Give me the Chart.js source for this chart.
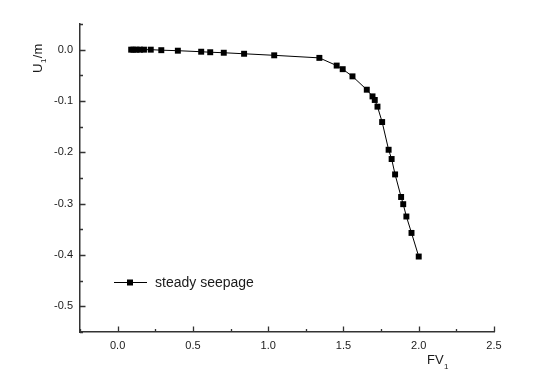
<!DOCTYPE html>
<html>
<head>
<meta charset="utf-8">
<script src="https://cdn.jsdelivr.net/npm/chart.js@4/dist/chart.umd.min.js"></script>
<style>
html,body{margin:0;padding:0;background:#fff;}
#wrap{width:553px;height:386px;position:relative;}
</style>
</head>
<body>
<div id="wrap"><canvas id="c" width="553" height="386"></canvas></div>
<script>
const fv = [0.09,0.105,0.125,0.148,0.175,0.22,0.29,0.40,0.555,0.615,0.705,0.84,1.04,1.34,1.455,1.495,1.56,1.655,1.693,1.708,1.726,1.757,1.80,1.82,1.843,1.883,1.897,1.918,1.952,2.0];
const u1 = [0,0,0,0,0,0,-0.001,-0.002,-0.004,-0.005,-0.006,-0.008,-0.011,-0.016,-0.031,-0.038,-0.052,-0.078,-0.091,-0.098,-0.111,-0.141,-0.195,-0.213,-0.243,-0.287,-0.301,-0.325,-0.357,-0.403];
const xTicks = [0,0.5,1.0,1.5,2.0,2.5];
const yTicks = [0.0,-0.1,-0.2,-0.3,-0.4,-0.5];
const xMinor = [-0.25,0.25,0.75,1.25,1.75,2.25];
const yMinor = [0.05,-0.05,-0.15,-0.25,-0.35,-0.45,-0.55];
const seriesName = 'steady seepage';
const xTitle = ['FV','1'];
const yTitle = ['U','1','/m'];

const FONT = 'Arial, "Liberation Sans", sans-serif';
const AXIS = '#333';
const TXT = '#1a1a1a';

const decor = {
  id:'decor',
  afterDraw(chart){
    const ctx = chart.ctx, xs = chart.scales.x, ys = chart.scales.y;
    const ca = chart.chartArea;
    ctx.save();
    ctx.strokeStyle = AXIS; ctx.lineWidth = 1.3;
    // inward ticks
    ctx.beginPath();
    xTicks.forEach(v=>{const p=Math.round(xs.getPixelForValue(v))+0.5; ctx.moveTo(p,ca.bottom); ctx.lineTo(p,ca.bottom-5.5);});
    xMinor.forEach(v=>{const p=Math.round(xs.getPixelForValue(v))+0.5; ctx.moveTo(p,ca.bottom); ctx.lineTo(p,ca.bottom-3);});
    yTicks.forEach(v=>{const p=Math.round(ys.getPixelForValue(v))+0.5; ctx.moveTo(ca.left,p); ctx.lineTo(ca.left+5.5,p);});
    yMinor.forEach(v=>{const p=Math.round(ys.getPixelForValue(v))+0.5; ctx.moveTo(ca.left,p); ctx.lineTo(ca.left+3,p);});
    ctx.stroke();
    // axis titles
    ctx.fillStyle = TXT;
    ctx.textBaseline = 'alphabetic';
    ctx.textAlign = 'left';
    ctx.font = '13px ' + FONT;
    let x0 = 427, y0 = 364;
    ctx.fillText(xTitle[0], x0, y0);
    let w = ctx.measureText(xTitle[0]).width;
    ctx.font = '8px ' + FONT;
    ctx.fillText(xTitle[1], x0 + w + 0.5, y0 + 5);
    // y title rotated
    ctx.save();
    ctx.translate(42, 73);
    ctx.rotate(-Math.PI/2);
    ctx.font = '13px ' + FONT;
    ctx.fillText(yTitle[0], 0, 0);
    let w1 = ctx.measureText(yTitle[0]).width;
    ctx.font = '8px ' + FONT;
    ctx.fillText(yTitle[1], w1 + 0.5, 4);
    let w2 = ctx.measureText(yTitle[1]).width;
    ctx.font = '13px ' + FONT;
    ctx.fillText(yTitle[2], w1 + w2 + 1, 0);
    ctx.restore();
    // legend
    const ly = 282;
    ctx.strokeStyle = '#000'; ctx.lineWidth = 1;
    ctx.beginPath(); ctx.moveTo(114, ly+0.5); ctx.lineTo(147, ly+0.5); ctx.stroke();
    ctx.fillStyle = '#000';
    ctx.fillRect(127, ly-2.5, 6, 6);
    ctx.fillStyle = TXT;
    ctx.font = '14px ' + FONT;
    ctx.textBaseline = 'middle';
    ctx.fillText(seriesName, 155, ly+1);
    ctx.restore();
  }
};

new Chart(document.getElementById('c'), {
  type:'line',
  data:{
    datasets:[{
      label: seriesName,
      data: fv.map((x,i)=>({x:x,y:u1[i]})),
      borderColor:'#000',
      backgroundColor:'#000',
      borderWidth:1,
      pointStyle:'rect',
      pointRadius:4.2,
      pointHoverRadius:4.2,
      pointBorderWidth:0,
      tension:0,
      fill:false
    }]
  },
  options:{
    responsive:false,
    animation:false,
    devicePixelRatio:1,
    layout:{padding:{top:24,right:59,left:0,bottom:0}},
    plugins:{legend:{display:false},tooltip:{enabled:false}},
    scales:{
      x:{
        type:'linear', min:-0.25, max:2.5,
        afterBuildTicks:(s)=>{s.ticks = xTicks.map(v=>({value:v}));},
        afterFit:(s)=>{s.height = 54;},
        grid:{display:false, drawTicks:false},
        border:{display:true,color:AXIS,width:1.5},
        ticks:{color:TXT,font:{family:FONT,size:11},padding:7,maxRotation:0,
          callback:(v)=>Number(v).toFixed(1)}
      },
      y:{
        type:'linear', min:-0.55, max:0.05,
        afterBuildTicks:(s)=>{s.ticks = yTicks.map(v=>({value:v}));},
        afterFit:(s)=>{s.width = 80;},
        grid:{display:false, drawTicks:false},
        border:{display:true,color:AXIS,width:1.5},
        ticks:{color:TXT,font:{family:FONT,size:11},padding:7,
          callback:(v)=>Number(v).toFixed(1)}
      }
    }
  },
  plugins:[decor]
});
</script>
</body>
</html>
